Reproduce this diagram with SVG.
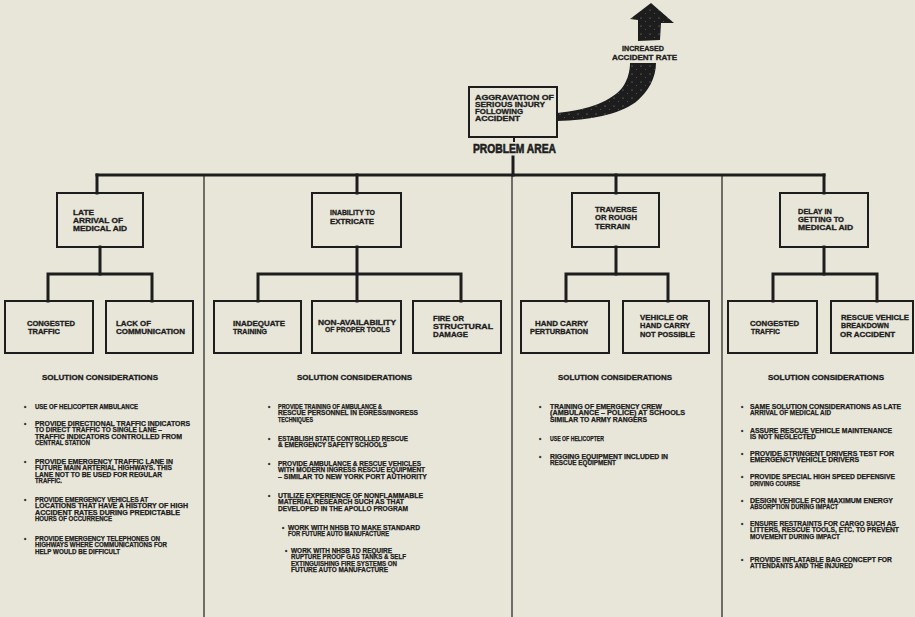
<svg xmlns="http://www.w3.org/2000/svg" width="915" height="617" viewBox="0 0 915 617">
<style>
.box{fill:none;stroke:#1d1d1d;stroke-width:2}
.conn{stroke:#1d1d1d;stroke-width:3;fill:none;stroke-linecap:square}
.div{stroke:#1d1d1d;stroke-width:1.2}
text{font-family:"Liberation Sans",Arial,sans-serif;font-weight:bold;fill:#1d1d1d;stroke:#1d1d1d}
.bl{font-size:7px;stroke-width:0.3}
.bt{font-size:6.4px;stroke-width:0.25}
.hd{font-size:6.8px;stroke-width:0.3}
.pa{font-size:12.5px;stroke-width:0.6}
</style>
<defs>
  <pattern id="speck" width="9" height="8" patternUnits="userSpaceOnUse">
    <rect width="9" height="8" fill="#1d1d1d"/>
    <circle cx="2" cy="2" r="0.55" fill="#9a9a94"/>
    <circle cx="6.5" cy="5.5" r="0.45" fill="#8a8a84"/>
  </pattern>
</defs>
<rect x="0" y="0" width="915" height="617" fill="#e8e6d9"/>

<g id="connectors">
  <line class="div" x1="204" y1="175" x2="204" y2="617"/>
  <line class="div" x1="512" y1="175" x2="512" y2="617"/>
  <line class="div" x1="722" y1="175" x2="722" y2="617"/>
  <line class="conn" x1="514" y1="138" x2="514" y2="141" style="stroke-width:2"/>
  <line class="conn" x1="513" y1="157" x2="513" y2="175"/>
  <line class="conn" x1="97" y1="175" x2="824" y2="175"/>
  <line class="conn" x1="97" y1="175" x2="97" y2="193"/>
  <line class="conn" x1="357" y1="175" x2="357" y2="193"/>
  <line class="conn" x1="616" y1="175" x2="616" y2="193"/>
  <line class="conn" x1="824" y1="175" x2="824" y2="193"/>
  <line class="conn" x1="100" y1="247" x2="100" y2="274"/>
  <polyline class="conn" points="48,301 48,274 152,274 152,301"/>
  <line class="conn" x1="357" y1="247" x2="357" y2="301"/>
  <polyline class="conn" points="258,301 258,274 461,274 461,301"/>
  <line class="conn" x1="616" y1="247" x2="616" y2="274"/>
  <polyline class="conn" points="566,301 566,274 668,274 668,301"/>
  <line class="conn" x1="824" y1="247" x2="824" y2="274"/>
  <polyline class="conn" points="773,301 773,274 877,274 877,301"/>
  <path d="M557,113 C590,110 612,100 622,88 C628,80 630,70 630,63 L656,63 C656,78 648,92 636,102 C618,115 590,120 557,121 Z" fill="url(#speck)"/>
  <polygon points="651,3 674,23 661,23 660,40 638,41 638,20 630,19" fill="url(#speck)"/>
</g>

<g id="problem">
  <rect class="box" x="469" y="87" width="88" height="50"/>
  <text class="bl" x="475" y="99.5" textLength="79" lengthAdjust="spacingAndGlyphs">AGGRAVATION OF</text>
  <text class="bl" x="475" y="106.5" textLength="70" lengthAdjust="spacingAndGlyphs">SERIOUS INJURY</text>
  <text class="bl" x="475" y="113.5" textLength="48" lengthAdjust="spacingAndGlyphs">FOLLOWING</text>
  <text class="bl" x="475" y="120.5" textLength="45" lengthAdjust="spacingAndGlyphs">ACCIDENT</text>
  <text class="pa" x="473" y="153" textLength="83" lengthAdjust="spacingAndGlyphs">PROBLEM AREA</text>
</g>

<g id="increased">
  <text class="bl" x="622" y="50.5" textLength="42" lengthAdjust="spacingAndGlyphs">INCREASED</text>
  <text class="bl" x="612" y="59.5" textLength="65" lengthAdjust="spacingAndGlyphs">ACCIDENT RATE</text>
</g>

<g id="late-arrival">
  <rect class="box" x="57" y="193" width="86" height="54"/>
  <text class="bl" x="73" y="214.5" textLength="21" lengthAdjust="spacingAndGlyphs">LATE</text>
  <text class="bl" x="73" y="222.5" textLength="50" lengthAdjust="spacingAndGlyphs">ARRIVAL OF</text>
  <text class="bl" x="73" y="230.5" textLength="54" lengthAdjust="spacingAndGlyphs">MEDICAL AID</text>
</g>
<g id="inability">
  <rect class="box" x="312" y="193" width="89" height="54"/>
  <text class="bl" x="330" y="215" textLength="45" lengthAdjust="spacingAndGlyphs">INABILITY TO</text>
  <text class="bl" x="330" y="224" textLength="44" lengthAdjust="spacingAndGlyphs">EXTRICATE</text>
</g>
<g id="traverse">
  <rect class="box" x="572" y="193" width="87" height="54"/>
  <text class="bl" x="595" y="211.5" textLength="42" lengthAdjust="spacingAndGlyphs">TRAVERSE</text>
  <text class="bl" x="595" y="220" textLength="42" lengthAdjust="spacingAndGlyphs">OR ROUGH</text>
  <text class="bl" x="595" y="228.5" textLength="35" lengthAdjust="spacingAndGlyphs">TERRAIN</text>
</g>
<g id="delay">
  <rect class="box" x="780" y="193" width="88" height="54"/>
  <text class="bl" x="798" y="213.5" textLength="34" lengthAdjust="spacingAndGlyphs">DELAY IN</text>
  <text class="bl" x="798" y="221.5" textLength="46" lengthAdjust="spacingAndGlyphs">GETTING TO</text>
  <text class="bl" x="798" y="230" textLength="55" lengthAdjust="spacingAndGlyphs">MEDICAL AID</text>
</g>

<g id="congested-1">
  <rect class="box" x="5" y="301" width="88" height="52"/>
  <text class="bl" x="27" y="325.5" textLength="48" lengthAdjust="spacingAndGlyphs">CONGESTED</text>
  <text class="bl" x="28" y="333.5" textLength="32" lengthAdjust="spacingAndGlyphs">TRAFFIC</text>
</g>
<g id="lack-communication">
  <rect class="box" x="106" y="301" width="87" height="52"/>
  <text class="bl" x="116" y="325.5" textLength="35" lengthAdjust="spacingAndGlyphs">LACK OF</text>
  <text class="bl" x="116" y="333.5" textLength="69" lengthAdjust="spacingAndGlyphs">COMMUNICATION</text>
</g>
<g id="inadequate-training">
  <rect class="box" x="214" y="301" width="87" height="52"/>
  <text class="bl" x="233" y="325.5" textLength="52" lengthAdjust="spacingAndGlyphs">INADEQUATE</text>
  <text class="bl" x="233" y="333.5" textLength="34" lengthAdjust="spacingAndGlyphs">TRAINING</text>
</g>
<g id="non-availability">
  <rect class="box" x="312" y="301" width="89" height="52"/>
  <text class="bl" x="318" y="324.5" textLength="78" lengthAdjust="spacingAndGlyphs">NON-AVAILABILITY</text>
  <text class="bl" x="325" y="332" textLength="65" lengthAdjust="spacingAndGlyphs">OF PROPER TOOLS</text>
</g>
<g id="fire-damage">
  <rect class="box" x="413" y="301" width="88" height="52"/>
  <text class="bl" x="433" y="320.5" textLength="31" lengthAdjust="spacingAndGlyphs">FIRE OR</text>
  <text class="bl" x="433" y="328.5" textLength="60" lengthAdjust="spacingAndGlyphs">STRUCTURAL</text>
  <text class="bl" x="433" y="336.5" textLength="35" lengthAdjust="spacingAndGlyphs">DAMAGE</text>
</g>
<g id="hand-carry">
  <rect class="box" x="521" y="301" width="88" height="52"/>
  <text class="bl" x="535" y="325.5" textLength="53" lengthAdjust="spacingAndGlyphs">HAND CARRY</text>
  <text class="bl" x="530" y="333.5" textLength="58" lengthAdjust="spacingAndGlyphs">PERTURBATION</text>
</g>
<g id="vehicle-not-possible">
  <rect class="box" x="623" y="301" width="86" height="52"/>
  <text class="bl" x="640" y="320" textLength="48" lengthAdjust="spacingAndGlyphs">VEHICLE OR</text>
  <text class="bl" x="640" y="328" textLength="50" lengthAdjust="spacingAndGlyphs">HAND CARRY</text>
  <text class="bl" x="640" y="336.5" textLength="55" lengthAdjust="spacingAndGlyphs">NOT POSSIBLE</text>
</g>
<g id="congested-2">
  <rect class="box" x="728" y="301" width="89" height="52"/>
  <text class="bl" x="750" y="325.5" textLength="49" lengthAdjust="spacingAndGlyphs">CONGESTED</text>
  <text class="bl" x="751" y="333.5" textLength="29" lengthAdjust="spacingAndGlyphs">TRAFFIC</text>
</g>
<g id="rescue-breakdown">
  <rect class="box" x="831" y="301" width="82" height="52"/>
  <text class="bl" x="841" y="320" textLength="68" lengthAdjust="spacingAndGlyphs">RESCUE VEHICLE</text>
  <text class="bl" x="841" y="328" textLength="48" lengthAdjust="spacingAndGlyphs">BREAKDOWN</text>
  <text class="bl" x="840" y="336.5" textLength="55" lengthAdjust="spacingAndGlyphs">OR ACCIDENT</text>
</g>

<g id="solutions-1">
  <text class="hd" x="42" y="380" textLength="116" lengthAdjust="spacingAndGlyphs">SOLUTION CONSIDERATIONS</text>
  <text class="bt" x="24" y="408.5">•</text>
  <text class="bt" x="35" y="408.5" textLength="103" lengthAdjust="spacingAndGlyphs">USE OF HELICOPTER AMBULANCE</text>
  <text class="bt" x="24" y="425.5">•</text>
  <text class="bt" x="35" y="425.5" textLength="155" lengthAdjust="spacingAndGlyphs">PROVIDE DIRECTIONAL TRAFFIC INDICATORS</text>
  <text class="bt" x="35" y="432" textLength="127" lengthAdjust="spacingAndGlyphs">TO DIRECT TRAFFIC TO SINGLE LANE –</text>
  <text class="bt" x="35" y="438.5" textLength="147" lengthAdjust="spacingAndGlyphs">TRAFFIC INDICATORS CONTROLLED FROM</text>
  <text class="bt" x="35" y="445" textLength="55" lengthAdjust="spacingAndGlyphs">CENTRAL STATION</text>
  <text class="bt" x="24" y="463.5">•</text>
  <text class="bt" x="35" y="463.5" textLength="138" lengthAdjust="spacingAndGlyphs">PROVIDE EMERGENCY TRAFFIC LANE IN</text>
  <text class="bt" x="35" y="470" textLength="137" lengthAdjust="spacingAndGlyphs">FUTURE MAIN ARTERIAL HIGHWAYS.  THIS</text>
  <text class="bt" x="35" y="476.5" textLength="127" lengthAdjust="spacingAndGlyphs">LANE NOT TO BE USED FOR REGULAR</text>
  <text class="bt" x="35" y="483" textLength="27" lengthAdjust="spacingAndGlyphs">TRAFFIC.</text>
  <text class="bt" x="24" y="501.5">•</text>
  <text class="bt" x="35" y="501.5" textLength="113" lengthAdjust="spacingAndGlyphs">PROVIDE EMERGENCY VEHICLES AT</text>
  <text class="bt" x="35" y="508" textLength="153" lengthAdjust="spacingAndGlyphs">LOCATIONS THAT HAVE A HISTORY OF HIGH</text>
  <text class="bt" x="35" y="514.5" textLength="145" lengthAdjust="spacingAndGlyphs">ACCIDENT RATES DURING PREDICTABLE</text>
  <text class="bt" x="35" y="521" textLength="77" lengthAdjust="spacingAndGlyphs">HOURS OF OCCURRENCE</text>
  <text class="bt" x="24" y="540.5">•</text>
  <text class="bt" x="35" y="540.5" textLength="125" lengthAdjust="spacingAndGlyphs">PROVIDE EMERGENCY TELEPHONES ON</text>
  <text class="bt" x="35" y="547" textLength="132" lengthAdjust="spacingAndGlyphs">HIGHWAYS WHERE COMMUNICATIONS FOR</text>
  <text class="bt" x="35" y="553.5" textLength="85" lengthAdjust="spacingAndGlyphs">HELP WOULD BE DIFFICULT</text>
</g>

<g id="solutions-2">
  <text class="hd" x="297" y="380" textLength="115" lengthAdjust="spacingAndGlyphs">SOLUTION CONSIDERATIONS</text>
  <text class="bt" x="268" y="408.5">•</text>
  <text class="bt" x="278" y="408.5" textLength="104" lengthAdjust="spacingAndGlyphs">PROVIDE TRAINING OF AMBULANCE &amp;</text>
  <text class="bt" x="278" y="415" textLength="140" lengthAdjust="spacingAndGlyphs">RESCUE PERSONNEL IN EGRESS/INGRESS</text>
  <text class="bt" x="278" y="421.5" textLength="35" lengthAdjust="spacingAndGlyphs">TECHNIQUES</text>
  <text class="bt" x="268" y="440.5">•</text>
  <text class="bt" x="278" y="440.5" textLength="130" lengthAdjust="spacingAndGlyphs">ESTABLISH STATE CONTROLLED RESCUE</text>
  <text class="bt" x="278" y="447" textLength="109" lengthAdjust="spacingAndGlyphs">&amp; EMERGENCY SAFETY SCHOOLS</text>
  <text class="bt" x="268" y="465.5">•</text>
  <text class="bt" x="278" y="465.5" textLength="143" lengthAdjust="spacingAndGlyphs">PROVIDE AMBULANCE &amp; RESCUE VEHICLES</text>
  <text class="bt" x="278" y="472" textLength="147" lengthAdjust="spacingAndGlyphs">WITH MODERN INGRESS RESCUE EQUIPMENT</text>
  <text class="bt" x="278" y="478.5" textLength="149" lengthAdjust="spacingAndGlyphs">– SIMILAR TO NEW YORK PORT AUTHORITY</text>
  <text class="bt" x="268" y="497.5">•</text>
  <text class="bt" x="278" y="497.5" textLength="145" lengthAdjust="spacingAndGlyphs">UTILIZE EXPERIENCE OF NONFLAMMABLE</text>
  <text class="bt" x="278" y="504" textLength="126" lengthAdjust="spacingAndGlyphs">MATERIAL RESEARCH SUCH AS THAT</text>
  <text class="bt" x="278" y="510.5" textLength="130" lengthAdjust="spacingAndGlyphs">DEVELOPED IN THE APOLLO PROGRAM</text>
  <text class="bt" x="282" y="529.5">•</text>
  <text class="bt" x="288" y="529.5" textLength="132" lengthAdjust="spacingAndGlyphs">WORK WITH NHSB TO MAKE STANDARD</text>
  <text class="bt" x="288" y="536" textLength="101" lengthAdjust="spacingAndGlyphs">FOR FUTURE AUTO MANUFACTURE</text>
  <text class="bt" x="285" y="552.5">•</text>
  <text class="bt" x="291" y="552.5" textLength="101" lengthAdjust="spacingAndGlyphs">WORK WITH NHSB TO REQUIRE</text>
  <text class="bt" x="291" y="559" textLength="115" lengthAdjust="spacingAndGlyphs">RUPTURE PROOF GAS TANKS &amp; SELF</text>
  <text class="bt" x="291" y="565.5" textLength="106" lengthAdjust="spacingAndGlyphs">EXTINGUISHING FIRE SYSTEMS ON</text>
  <text class="bt" x="291" y="572" textLength="97" lengthAdjust="spacingAndGlyphs">FUTURE AUTO MANUFACTURE</text>
</g>

<g id="solutions-3">
  <text class="hd" x="558" y="380" textLength="114" lengthAdjust="spacingAndGlyphs">SOLUTION CONSIDERATIONS</text>
  <text class="bt" x="539" y="408.5">•</text>
  <text class="bt" x="550" y="408.5" textLength="112" lengthAdjust="spacingAndGlyphs">TRAINING OF EMERGENCY CREW</text>
  <text class="bt" x="550" y="415" textLength="135" lengthAdjust="spacingAndGlyphs">(AMBULANCE – POLICE) AT SCHOOLS</text>
  <text class="bt" x="550" y="421.5" textLength="97" lengthAdjust="spacingAndGlyphs">SIMILAR TO ARMY RANGERS</text>
  <text class="bt" x="539" y="440.5">•</text>
  <text class="bt" x="550" y="440.5" textLength="54" lengthAdjust="spacingAndGlyphs">USE OF HELICOPTER</text>
  <text class="bt" x="539" y="458.5">•</text>
  <text class="bt" x="550" y="458.5" textLength="118" lengthAdjust="spacingAndGlyphs">RIGGING EQUIPMENT INCLUDED IN</text>
  <text class="bt" x="550" y="465" textLength="66" lengthAdjust="spacingAndGlyphs">RESCUE EQUIPMENT</text>
</g>

<g id="solutions-4">
  <text class="hd" x="768" y="380" textLength="116" lengthAdjust="spacingAndGlyphs">SOLUTION CONSIDERATIONS</text>
  <text class="bt" x="741" y="408.5">•</text>
  <text class="bt" x="750" y="408.5" textLength="151" lengthAdjust="spacingAndGlyphs">SAME SOLUTION CONSIDERATIONS AS LATE</text>
  <text class="bt" x="750" y="415" textLength="81" lengthAdjust="spacingAndGlyphs">ARRIVAL OF MEDICAL AID</text>
  <text class="bt" x="741" y="432.5">•</text>
  <text class="bt" x="750" y="432.5" textLength="142" lengthAdjust="spacingAndGlyphs">ASSURE RESCUE VEHICLE MAINTENANCE</text>
  <text class="bt" x="750" y="439" textLength="66" lengthAdjust="spacingAndGlyphs">IS NOT NEGLECTED</text>
  <text class="bt" x="741" y="455.5">•</text>
  <text class="bt" x="750" y="455.5" textLength="144" lengthAdjust="spacingAndGlyphs">PROVIDE STRINGENT DRIVERS TEST FOR</text>
  <text class="bt" x="750" y="462" textLength="109" lengthAdjust="spacingAndGlyphs">EMERGENCY VEHICLE DRIVERS</text>
  <text class="bt" x="741" y="479">•</text>
  <text class="bt" x="750" y="479" textLength="145" lengthAdjust="spacingAndGlyphs">PROVIDE SPECIAL HIGH SPEED DEFENSIVE</text>
  <text class="bt" x="750" y="485.5" textLength="50" lengthAdjust="spacingAndGlyphs">DRIVING COURSE</text>
  <text class="bt" x="741" y="502.5">•</text>
  <text class="bt" x="750" y="502.5" textLength="143" lengthAdjust="spacingAndGlyphs">DESIGN VEHICLE FOR MAXIMUM ENERGY</text>
  <text class="bt" x="750" y="509" textLength="88" lengthAdjust="spacingAndGlyphs">ABSORPTION DURING IMPACT</text>
  <text class="bt" x="741" y="525.5">•</text>
  <text class="bt" x="750" y="525.5" textLength="146" lengthAdjust="spacingAndGlyphs">ENSURE RESTRAINTS FOR CARGO SUCH AS</text>
  <text class="bt" x="750" y="532" textLength="149" lengthAdjust="spacingAndGlyphs">LITTERS, RESCUE TOOLS, ETC. TO PREVENT</text>
  <text class="bt" x="750" y="538.5" textLength="90" lengthAdjust="spacingAndGlyphs">MOVEMENT DURING IMPACT</text>
  <text class="bt" x="741" y="561.5">•</text>
  <text class="bt" x="750" y="561.5" textLength="142" lengthAdjust="spacingAndGlyphs">PROVIDE INFLATABLE BAG CONCEPT FOR</text>
  <text class="bt" x="750" y="568" textLength="103" lengthAdjust="spacingAndGlyphs">ATTENDANTS AND THE INJURED</text>
</g>
</svg>
